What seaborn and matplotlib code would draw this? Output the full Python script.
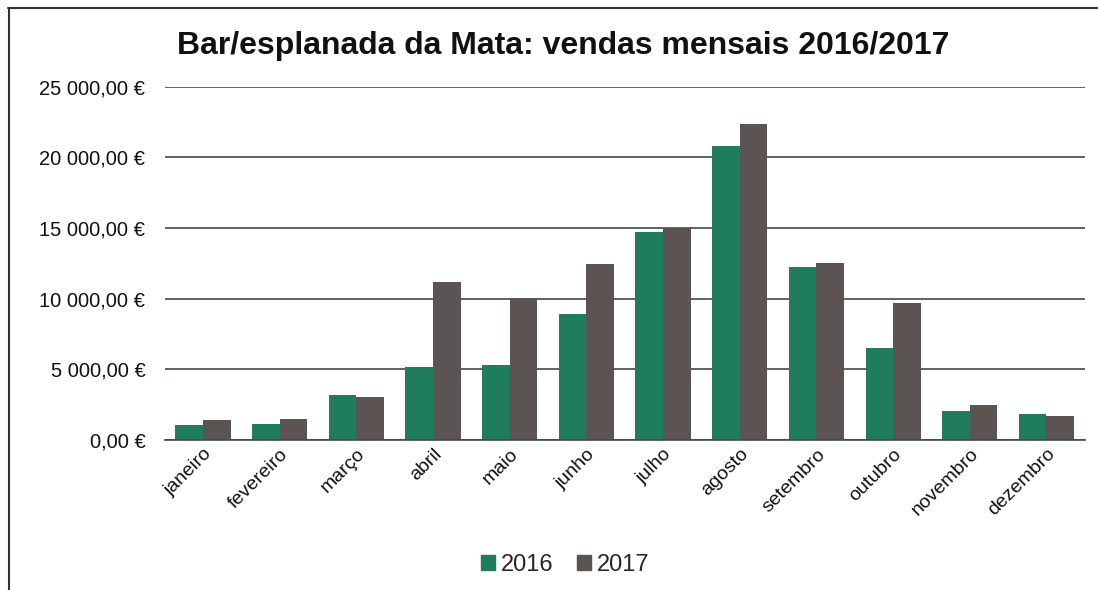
import matplotlib
matplotlib.use("Agg")
import matplotlib.pyplot as plt
from matplotlib.lines import Line2D
from matplotlib.ticker import FuncFormatter, MultipleLocator
import seaborn as sns
import pandas as pd

meses = ["janeiro", "fevereiro", "março", "abril", "maio", "junho", "julho",
         "agosto", "setembro", "outubro", "novembro", "dezembro"]
vendas_2016 = [1060, 1130, 3190, 5200, 5350, 8920, 14700, 20820, 12250, 6520, 2050, 1840]
vendas_2017 = [1420, 1490, 3030, 11190, 10060, 12460, 14980, 22380, 12540, 9700, 2480, 1700]
anos = ["2016", "2017"]
cores = ["#1f7d5b", "#5b5452"]

df = pd.DataFrame({
    "mes": meses * 2,
    "ano": [anos[0]] * 12 + [anos[1]] * 12,
    "valor": vendas_2016 + vendas_2017,
})

sns.set_theme(style="white")
plt.rcParams["font.family"] = ["Liberation Sans", "DejaVu Sans"]

fig = plt.figure(figsize=(10.98, 5.90), dpi=100)
ax = fig.add_axes([0.150, 0.254, 0.838, 0.599])

sns.barplot(data=df, x="mes", y="valor", hue="ano", palette=cores,
            width=0.72, saturation=1, linewidth=0, edgecolor="none",
            ax=ax, legend=True)

ax.set_ylim(0, 25000)
ax.yaxis.set_major_locator(MultipleLocator(5000))

def euro(v, pos):
    s = f"{v:,.2f}".replace(",", " ").replace(".", ",")
    return s + " €"

ax.yaxis.set_major_formatter(FuncFormatter(euro))
ax.grid(axis="y", color="#3c4a52", linewidth=1.2)
ax.set_axisbelow(True)
for s in ["top", "right", "left"]:
    ax.spines[s].set_visible(False)
ax.spines["bottom"].set_color("#3c4a52")
ax.spines["bottom"].set_linewidth(1.2)
ax.set_xlabel("")
ax.set_ylabel("")
ax.tick_params(axis="y", labelsize=14.5, colors="#111111", pad=14, length=0)
ax.tick_params(axis="x", labelsize=14, colors="#111111", length=0, pad=4)
ax.set_xlim(-0.5, 11.5)
for lbl in ax.get_xticklabels():
    lbl.set_rotation(45)
    lbl.set_ha("right")
    lbl.set_rotation_mode("anchor")

ax.legend_.remove()
handles = [plt.Rectangle((0, 0), 1, 1, color=c) for c in cores]
fig.legend(handles, anos, loc="center", bbox_to_anchor=(0.515, 0.043), ncol=2,
           frameon=False, fontsize=17, handlelength=0.6, handleheight=0.6,
           handletextpad=0.25, columnspacing=1.0)

fig.text(0.513, 0.922, "Bar/esplanada da Mata: vendas mensais 2016/2017",
         ha="center", va="center", fontsize=23, fontweight="bold", color="#111111")

fig.add_artist(Line2D([0.007, 1.0], [0.986, 0.986], transform=fig.transFigure,
                      color="#333333", linewidth=1.5))
fig.add_artist(Line2D([0.008, 0.008], [0.0, 0.986], transform=fig.transFigure,
                      color="#333333", linewidth=1.5))

fig.savefig("out.png", dpi=100)
